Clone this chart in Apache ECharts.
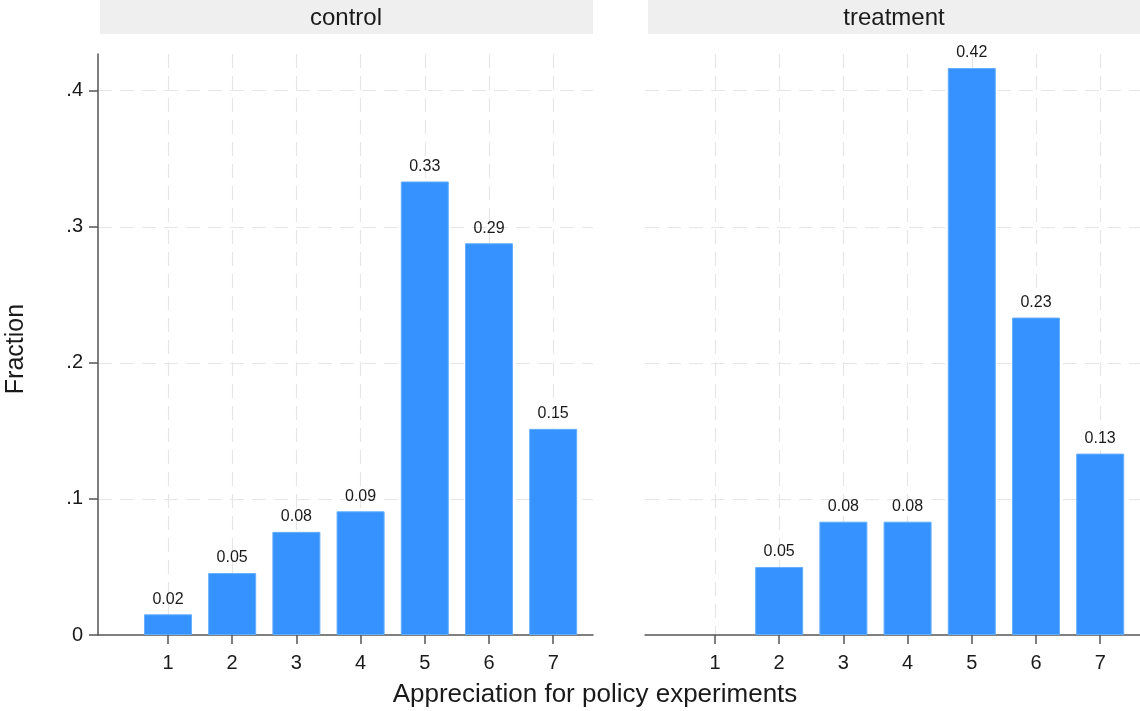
<!DOCTYPE html>
<html>
<head>
<meta charset="utf-8">
<script src="https://cdn.jsdelivr.net/npm/echarts@6/dist/echarts.min.js"></script>
<style>html,body{margin:0;padding:0;background:#fff;}#c{width:1140px;height:711px;}</style>
</head>
<body>
<div id="c"></div>
<script>
const categories = [1, 2, 3, 4, 5, 6, 7];
const controlValues = [0.0152, 0.0455, 0.0758, 0.0909, 0.3333, 0.2879, 0.1515];
const treatmentValues = [0, 0.05, 0.0833, 0.0833, 0.4167, 0.2333, 0.1333];
const yTicks = [0, 0.1, 0.2, 0.3, 0.4];
const panelTitles = ['control', 'treatment'];

const FONT = '"Liberation Sans", Arial, sans-serif';
const barColor = '#3592fe';
const gridLine = { show: true, lineStyle: { color: '#e6e6e6', width: 1.2, type: [14, 8] } };

function xAxis(gi) {
  return {
    type: 'value', gridIndex: gi, min: -0.09, max: 7.62,
    axisLine: { show: true, onZero: false, lineStyle: { color: '#555', width: 1.5 } },
    axisTick: { show: true, customValues: categories, length: 9, lineStyle: { color: '#555', width: 1.5 } },
    axisLabel: { customValues: categories, color: '#1a1a1a', fontSize: 20, fontFamily: FONT, margin: 18 },
    splitLine: gridLine
  };
}
function yAxis(gi, showAxis) {
  return {
    type: 'value', gridIndex: gi, min: 0, max: 0.427,
    axisLine: { show: showAxis, onZero: false, lineStyle: { color: '#555', width: 1.5 } },
    axisTick: { show: showAxis, customValues: yTicks, length: 9, lineStyle: { color: '#555', width: 1.5 } },
    axisLabel: { show: showAxis, customValues: yTicks, color: '#1a1a1a', fontSize: 20, fontFamily: FONT, margin: 15,
      formatter: v => v === 0 ? '0' : String(Math.round(v * 10) / 10).replace(/^0\./, '.') },
    splitLine: Object.assign({}, gridLine, { showMinLine: false })
  };
}
function series(gi, vals) {
  return {
    type: 'bar', xAxisIndex: gi, yAxisIndex: gi,
    data: categories.map((c, i) => ({
      value: [c, vals[i]],
      itemStyle: { borderWidth: vals[i] > 0 ? 1 : 0 }
    })),
    barWidth: 48,
    itemStyle: { color: barColor, borderColor: '#63aeff', borderWidth: 1 },
    label: {
      show: true, position: 'top', distance: 7, color: '#1a1a1a', fontSize: 16, fontFamily: FONT,
      formatter: p => p.value[1] > 0 ? p.value[1].toFixed(2) : ''
    },
    silent: true
  };
}

const chart = echarts.init(document.getElementById('c'), null, { renderer: 'canvas' });
chart.setOption({
  animation: false,
  backgroundColor: '#fff',
  grid: [
    { left: 98, right: 547, top: 54, bottom: 76 },
    { left: 645, right: 0, top: 54, bottom: 76 }
  ],
  xAxis: [xAxis(0), xAxis(1)],
  yAxis: [yAxis(0, true), yAxis(1, false)],
  series: [series(0, controlValues), series(1, treatmentValues)],
  graphic: [
    { type: 'rect', shape: { x: 100, y: 0, width: 493, height: 34 }, style: { fill: '#efefef' } },
    { type: 'rect', shape: { x: 648, y: 0, width: 492, height: 34 }, style: { fill: '#efefef' } },
    { type: 'text', x: 346, y: 18, style: { text: panelTitles[0], fill: '#1a1a1a', font: '24px ' + FONT, textAlign: 'center', textVerticalAlign: 'middle' } },
    { type: 'text', x: 894, y: 18, style: { text: panelTitles[1], fill: '#1a1a1a', font: '24px ' + FONT, textAlign: 'center', textVerticalAlign: 'middle' } },
    { type: 'text', x: 16, y: 349, rotation: Math.PI / 2, style: { text: 'Fraction', fill: '#1a1a1a', font: '25px ' + FONT, textAlign: 'center', textVerticalAlign: 'middle' } },
    { type: 'text', x: 595, y: 695, style: { text: 'Appreciation for policy experiments', fill: '#1a1a1a', font: '26px ' + FONT, textAlign: 'center', textVerticalAlign: 'middle' } }
  ]
});
</script>
</body>
</html>
